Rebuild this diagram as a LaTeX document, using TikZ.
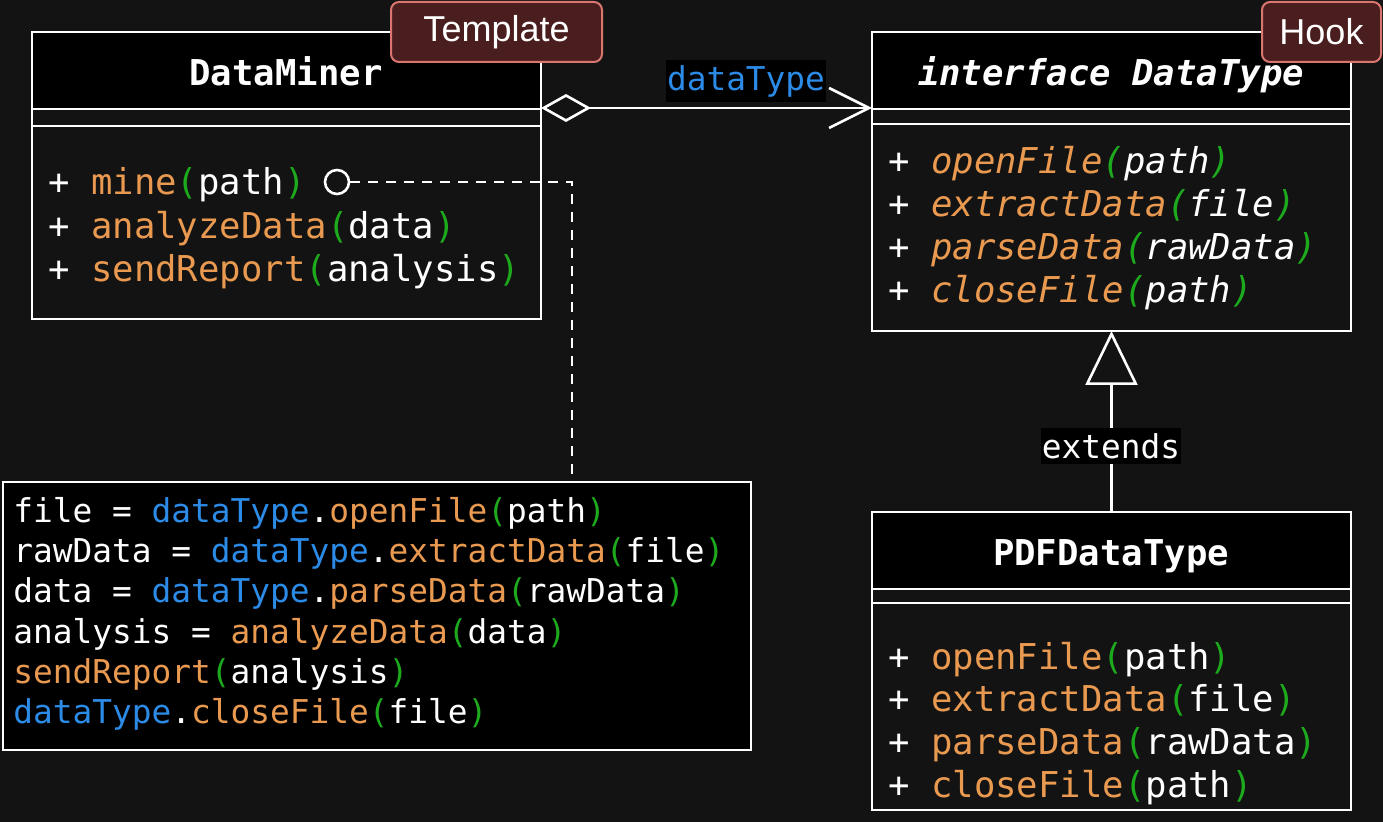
\documentclass[tikz,border=0pt]{standalone}
\usepackage{fontspec}
\setmainfont{Liberation Sans}
\newfontfamily\monof{DejaVu Sans Mono}[ItalicFont={DejaVu Sans Mono Oblique},BoldFont={DejaVu Sans Mono Bold},BoldItalicFont={DejaVu Sans Mono Bold Oblique}]
\usetikzlibrary{arrows.meta,calc}
\definecolor{bg}{HTML}{131313}
\definecolor{orn}{HTML}{E99A50}
\definecolor{grn}{HTML}{1DAA1D}
\definecolor{blu}{HTML}{2C8BE6}
\definecolor{tagfill}{HTML}{4A1E1E}
\definecolor{tagline}{HTML}{DA7570}
\newcommand{\fn}[1]{\textcolor{orn}{#1}}
\newcommand{\pa}[1]{\textcolor{grn}{(}#1\textcolor{grn}{)}}
\newcommand{\dtv}{\textcolor{blu}{dataType}}
\begin{document}
\begin{tikzpicture}[x=0.5pt,y=-0.5pt,
  classbox/.style={draw=white,line width=1.3pt,inner sep=0pt,outer sep=0pt,anchor=north west},
  sepline/.style={draw=white,line width=1.3pt},
  memb/.style={anchor=base west,inner sep=0pt,text=white,font=\monof\fontsize{17.8}{20}\selectfont},
  hdr/.style={anchor=base,inner sep=0pt,text=white,font=\monof\bfseries\fontsize{17.8}{20}\selectfont},
  codeline/.style={anchor=base west,inner sep=0pt,text=white,font=\monof\fontsize{16.4}{20}\selectfont},
  lbl/.style={fill=black,inner xsep=0.5pt,inner ysep=2.5pt,font=\monof\fontsize{16.4}{20}\selectfont},
  tag/.style={draw=tagline,fill=tagfill,rounded corners=4pt,line width=1pt,text=white,inner sep=0pt,
    font=\fontsize{18}{20}\selectfont,minimum height=30pt},
  conn/.style={draw=white,line width=1.3pt}]
\fill[bg] (0,0) rectangle (1383,822);
\useasboundingbox (0,0) rectangle (1383,822);

% DataMiner
\fill[black] (32,32) rectangle (541,109);
\node[classbox,minimum width=254.5pt,minimum height=143.5pt] (dm) at (32,32) {};
\draw[sepline] (32,109) -- (541,109) (32,126) -- (541,126);
\node[hdr] (dmh) at (286,86) {DataMiner};
\node[memb] (dm1) at (48,195) {+ \fn{mine}\pa{path}};
\node[memb] (dm2) at (48,239) {+ \fn{analyzeData}\pa{data}};
\node[memb] (dm3) at (48,282) {+ \fn{sendReport}\pa{analysis}};

% interface DataType
\fill[black] (872,32) rectangle (1351,109);
\node[classbox,minimum width=239.5pt,minimum height=149.5pt] (dt) at (872,32) {};
\draw[sepline] (872,109) -- (1351,109) (872,124) -- (1351,124);
\node[hdr] (dth) at (1111,86) {\itshape interface DataType};
\node[memb] (dt1) at (888,174) {\itshape + \fn{openFile}\pa{path}};
\node[memb] (dt2) at (888,217) {\itshape + \fn{extractData}\pa{file}};
\node[memb] (dt3) at (888,260) {\itshape + \fn{parseData}\pa{rawData}};
\node[memb] (dt4) at (888,303) {\itshape + \fn{closeFile}\pa{path}};

% PDFDataType
\fill[black] (872,512) rectangle (1351,589);
\node[classbox,minimum width=239.5pt,minimum height=149pt] (pdf) at (872,512) {};
\draw[sepline] (872,589) -- (1351,589) (872,603) -- (1351,603);
\node[hdr] (pdfh) at (1111,566) {PDFDataType};
\node[memb] (p1) at (888,670) {+ \fn{openFile}\pa{path}};
\node[memb] (p2) at (888,712) {+ \fn{extractData}\pa{file}};
\node[memb] (p3) at (888,755) {+ \fn{parseData}\pa{rawData}};
\node[memb] (p4) at (888,798) {+ \fn{closeFile}\pa{path}};

% code note
\node[classbox,fill=black,minimum width=374pt,minimum height=134pt] (code) at (3,482) {};
\node[codeline] (c1) at (13,523) {file = \dtv.\fn{openFile}\pa{path}};
\node[codeline] (c2) at (13,563) {rawData = \dtv.\fn{extractData}\pa{file}};
\node[codeline] (c3) at (13,603) {data = \dtv.\fn{parseData}\pa{rawData}};
\node[codeline] (c4) at (13,644) {analysis = \fn{analyzeData}\pa{data}};
\node[codeline] (c5) at (13,684) {\fn{sendReport}\pa{analysis}};
\node[codeline] (c6) at (13,724) {\dtv.\fn{closeFile}\pa{file}};

% note circle and dashed link
\node[draw=white,circle,line width=1.3pt,minimum size=12pt,inner sep=0pt] (nc) at (337,182) {};
\draw[conn,dash pattern=on 5pt off 4pt] (nc.east) -| ($(code.north west)+(569,0)$);

% aggregation
\draw[conn,{Diamond[open,length=25pt,width=14pt]}-{Straight Barb[length=20pt,width=20pt]}]
  ($(dm.north east)+(0,76)$) -- ($(dt.north west)+(0,76)$);
\node[lbl,text=blu] (dtl) at (746,81) {dataType};

% inheritance
\draw[conn,-{Triangle[open,length=27pt,width=26pt]}] (pdf.north) -- (dt.south);
\node[lbl,text=white] (ext) at (1111,446) {extends};

% tags
\node[tag,minimum width=105.5pt] (tpl) at (496.5,32) {Template};
\node[tag,minimum width=59.5pt] (hook) at (1321.5,32) {Hook};
\end{tikzpicture}
\end{document}
